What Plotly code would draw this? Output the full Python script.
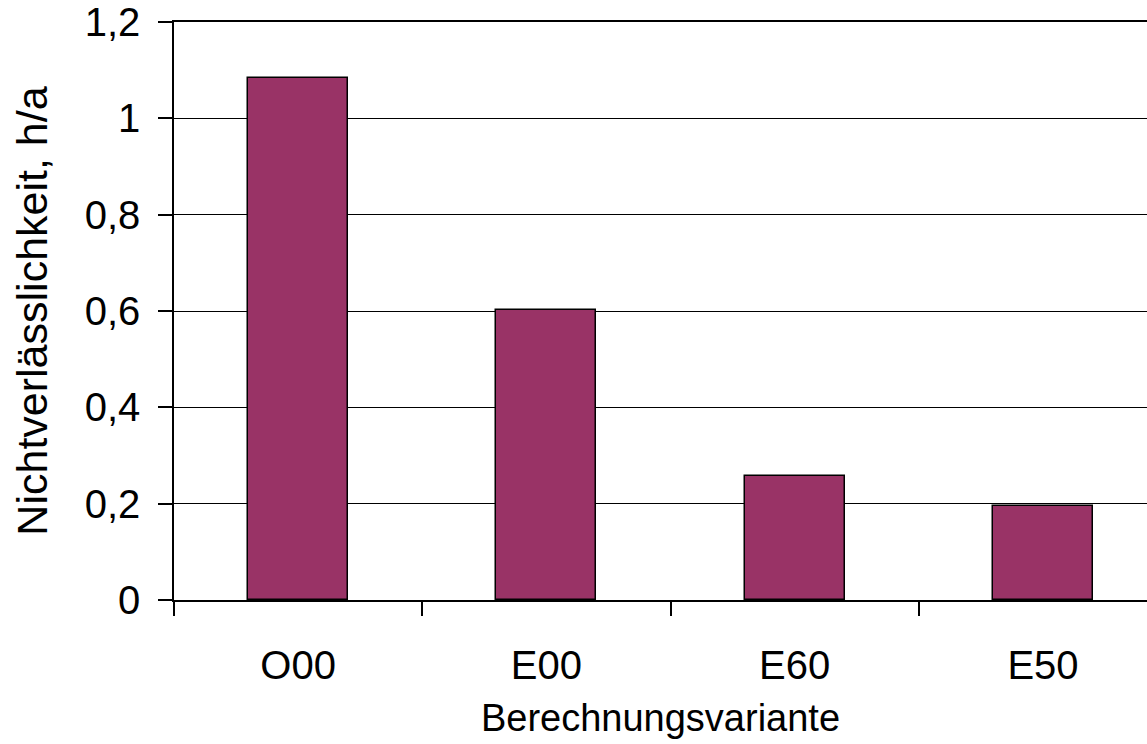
import plotly.graph_objects as go

# Calculation variants and their unavailability (hours per year)
variants = ["O00", "E00", "E60", "E50"]
unavailability = [1.083, 0.603, 0.257, 0.195]

y_tick_values = [0, 0.2, 0.4, 0.6, 0.8, 1.0, 1.2]
y_tick_labels = ["0", "0,2", "0,4", "0,6", "0,8", "1", "1,2"]

x_title = "Berechnungsvariante"
y_title = "Nichtverlässlichkeit, h/a"

font_family = "Liberation Sans, Arial, sans-serif"

fig = go.Figure(
    go.Bar(
        x=variants,
        y=unavailability,
        width=0.403,
        marker=dict(color="#993366", line=dict(color="black", width=1.5)),
    )
)

fig.update_layout(
    width=1147,
    height=744,
    margin=dict(l=174, r=0, t=22, b=144),
    paper_bgcolor="white",
    plot_bgcolor="white",
    showlegend=False,
    font=dict(family=font_family, size=38, color="black"),
    bargap=0,
)

fig.update_xaxes(
    type="category",
    range=[-0.5, 3.419],
    showline=True,
    mirror=True,
    linecolor="black",
    linewidth=2,
    ticks="outside",
    tickson="boundaries",
    ticklen=14,
    tickcolor="black",
    tickwidth=1.5,
    showgrid=False,
    tickfont=dict(size=40),
    ticklabelstandoff=29,
    title=dict(text=x_title, font=dict(size=38), standoff=18),
)

fig.update_yaxes(
    range=[0, 1.2],
    tickvals=y_tick_values,
    ticktext=y_tick_labels,
    showline=True,
    linecolor="black",
    linewidth=1.5,
    ticks="outside",
    ticklen=14,
    tickcolor="black",
    tickwidth=1.5,
    showgrid=True,
    gridcolor="black",
    gridwidth=1,
    zeroline=False,
    tickfont=dict(size=40),
    ticklabelstandoff=10,
    title=dict(text=y_title, font=dict(size=43), standoff=24),
)

fig.write_html("out.html")
